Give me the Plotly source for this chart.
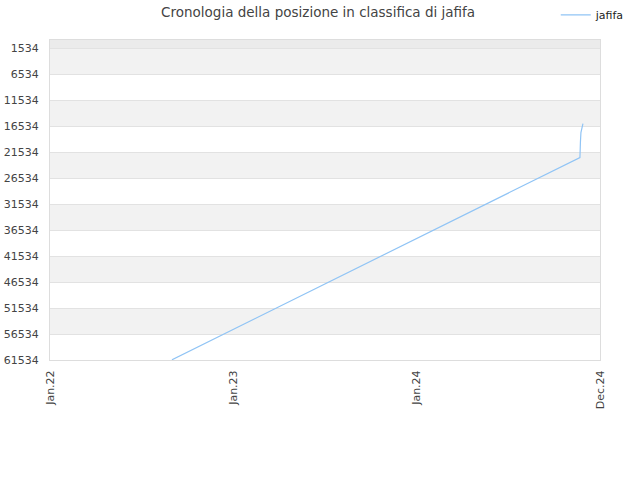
import plotly.graph_objects as go

# data
dates = ["2022-09-01", "2023-10-15", "2024-11-22", "2024-11-23", "2024-11-24", "2024-11-28"]
ranks = [61500, 42000, 22600, 19600, 17800, 16100]

y_ticks = [1534, 6534, 11534, 16534, 21534, 26534, 31534, 36534, 41534, 46534, 51534, 56534, 61534]
x_ticks = ["2022-01-01", "2023-01-01", "2024-01-01", "2025-01-01"]
x_labels = ["Jan.22", "Jan.23", "Jan.24", "Dec.24"]

fig = go.Figure()

fig.add_trace(go.Scatter(
    x=dates, y=ranks,
    mode="lines",
    name="jafifa",
    line=dict(color="#90c4f5", width=1.2),
))

# alternating bands between gridlines
shapes = [dict(type="rect", xref="paper", yref="y", x0=0, x1=1, y0=0, y1=y_ticks[0],
               fillcolor="#ebebeb", line_width=0, layer="below")]
for i in range(0, len(y_ticks) - 1, 2):
    shapes.append(dict(type="rect", xref="paper", yref="y", x0=0, x1=1,
                       y0=y_ticks[i], y1=y_ticks[i + 1],
                       fillcolor="#f2f2f2", line_width=0, layer="below"))

fig.update_layout(
    width=640, height=480,
    margin=dict(l=50, r=40, t=40, b=120, autoexpand=False),
    paper_bgcolor="white",
    plot_bgcolor="white",
    font=dict(family="DejaVu Sans", size=11, color="#444"),
    title=dict(text="Cronologia della posizione in classifica di jafifa",
               x=0.497, xanchor="center", y=0.975, yanchor="middle",
               font=dict(size=13.5, color="#444")),
    showlegend=True,
    legend=dict(x=0.984, xanchor="right", y=0.969, yanchor="middle",
                xref="container", yref="container",
                font=dict(size=11, color="#222"), bgcolor="rgba(0,0,0,0)"),
    shapes=shapes,
    xaxis=dict(
        type="date",
        range=["2022-01-01", "2025-01-01"],
        tickvals=x_ticks, ticktext=x_labels,
        tickangle=-90,
        showgrid=False, zeroline=False,
        showline=True, linecolor="#dddddd", mirror=True,
        ticks="", ticklabelstandoff=5,
        tickfont=dict(size=11, color="#444"),
    ),
    yaxis=dict(
        range=[61534, -4],
        tickvals=y_ticks,
        ticktext=[str(v) for v in y_ticks],
        showgrid=True, gridcolor="#e2e2e2",
        zeroline=False,
        showline=True, linecolor="#dddddd", mirror=True,
        ticks="", ticklabelstandoff=8,
        tickfont=dict(size=11, color="#444"),
    ),
)

# drop the default page margin so the chart sits at the window's corner
fig.write_html("out.html", config={"displayModeBar": False},
               post_script="document.body.style.margin='0';")
